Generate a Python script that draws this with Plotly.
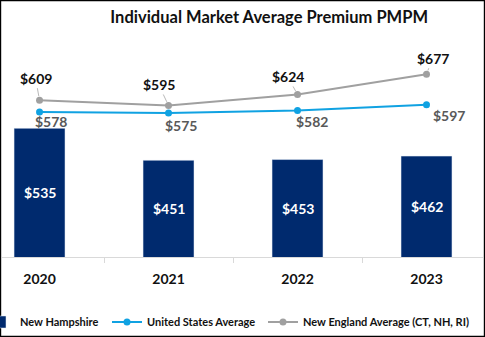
import plotly.graph_objects as go

years = ["2020", "2021", "2022", "2023"]
nh = [535, 451, 453, 462]
us = [578, 575, 582, 597]
ne = [609, 595, 624, 677]

xpos = list(range(len(years)))

NAVY = "#002A6E"
BLUE = "#10A2E2"
GRAY = "#A0A0A0"
FONT = "Lato"
YMIN, YMAX = 197, 767
W, H = 485, 337
ML, MR, MT, MB = 2, 2, 40, 80
PW, PH = W - ML - MR, H - MT - MB

fig = go.Figure()
fig.add_trace(go.Bar(
    x=xpos, y=nh, name="New Hampshire", marker_color=NAVY, width=0.395, legend="legend",
))
fig.add_trace(go.Scatter(
    x=xpos, y=us, name="United States Average", mode="lines+markers", legend="legend2",
    line=dict(color=BLUE, width=2), marker=dict(size=7, color=BLUE),
))
fig.add_trace(go.Scatter(
    x=xpos, y=ne, name="New England Average (CT, NH, RI)", mode="lines+markers", legend="legend3",
    line=dict(color=GRAY, width=2), marker=dict(size=7, color=GRAY),
))

# bar labels, centred in visible part of bar
for x, v in zip(xpos, nh):
    fig.add_annotation(x=x, y=(YMIN + v) / 2, text=f"${v}", showarrow=False,
                       font=dict(size=14, color="white", family=FONT, weight="bold"))
# gray series labels with leader lines
ne_off = [(-4, -22), (-10, -21), (-10, -18), (6, -16)]
for x, v, (ax, ay) in zip(xpos, ne, ne_off):
    fig.add_annotation(x=x, y=v, text=f"${v}", showarrow=True, arrowhead=0,
                       arrowcolor="#A6A6A6", arrowwidth=0.8, ax=ax, ay=ay, standoff=4,
                       font=dict(size=14, color="#111111", family=FONT, weight="bold"))
# blue series labels
us_off = [(11, -10), (12, -12), (14, -11), (22, -11)]
for x, v, (dx, dy) in zip(xpos, us, us_off):
    fig.add_annotation(x=x, y=v, text=f"${v}", showarrow=False, xshift=dx, yshift=dy,
                       font=dict(size=14, color="#595959", family=FONT, weight="bold"))

# outer border
fig.add_shape(type="rect", xref="paper", yref="paper",
              x0=(0.6 - ML) / PW, x1=(484.4 - ML) / PW,
              y0=(MT + PH - 336.4) / PH, y1=(MT + PH - 0.6) / PH,
              line=dict(color="black", width=1.2))

leg_font = dict(size=11, color="#111111", family=FONT, weight="bold")
leg_y = (MT + PH - 322) / PH


def leg(left_px):
    return dict(orientation="h", x=(left_px - ML) / PW, xanchor="left", y=leg_y, yanchor="middle",
                font=leg_font, itemwidth=30, bgcolor="rgba(0,0,0,0)", borderwidth=0)


fig.update_layout(
    width=W, height=H,
    margin=dict(l=ML, r=MR, t=MT, b=MB, autoexpand=False),
    paper_bgcolor="white", plot_bgcolor="white",
    title=dict(text="Individual Market Average Premium PMPM", x=0.555, xanchor="center",
               y=1 - 17 / H, yanchor="middle",
               font=dict(size=16.5, color="#111111", family=FONT, weight="bold")),
    xaxis=dict(range=[-0.291, 3.438], showline=True, linecolor="#D9D9D9", linewidth=1,
               tickvals=xpos, ticktext=years, ticks="", ticklabelstandoff=9,
               tickfont=dict(size=14, color="#111111", family=FONT, weight="bold"),
               minor=dict(tickvals=[0.5, 1.5, 2.5], ticks="outside", ticklen=5,
                          tickcolor="#D9D9D9", showgrid=False),
               showgrid=False, zeroline=False),
    yaxis=dict(range=[YMIN, YMAX], showgrid=False, showticklabels=False, showline=False,
               zeroline=False, ticks=""),
    showlegend=True,
    legend=leg(-20),
    legend2=leg(107),
    legend3=leg(263),
)

fig.write_html("out.html")
